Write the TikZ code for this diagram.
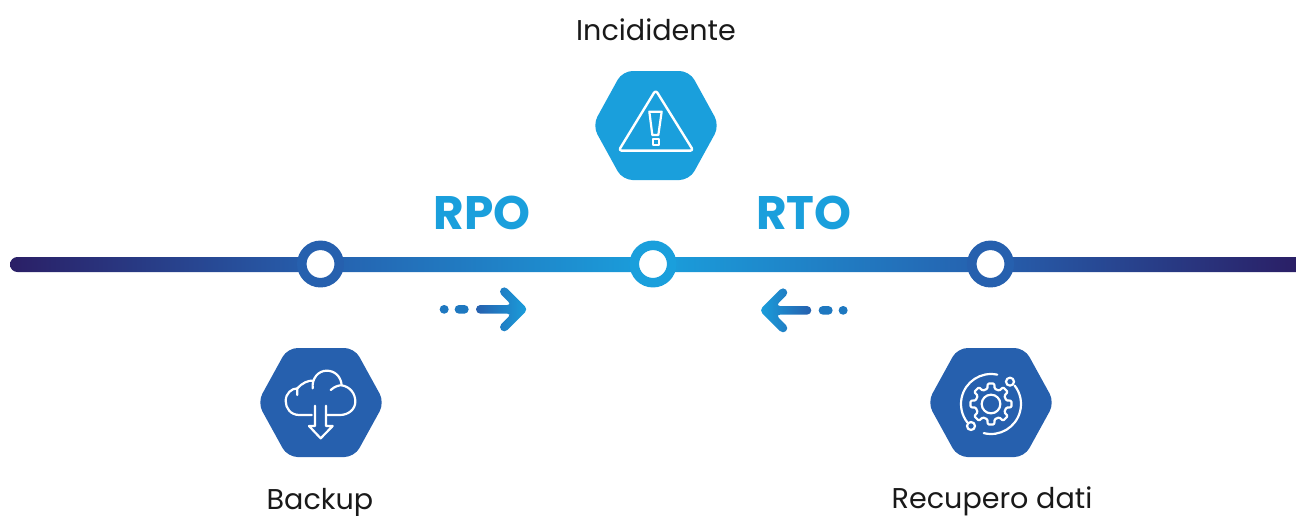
\documentclass[tikz,border=0pt]{standalone}
\usepackage{fontspec}
\setmainfont{Poppins}
\definecolor{cA}{HTML}{1A9FDC}
\definecolor{cB}{HTML}{2660AE}
\definecolor{cC}{HTML}{2A1F66}
\definecolor{cD}{HTML}{1E78C0}
\pgfdeclarehorizontalshading{barshade}{100bp}{
  color(0bp)=(cC); color(25bp)=(cC); color(37.05bp)=(cB); color(50bp)=(cA);
  color(63.1bp)=(cB); color(75bp)=(cC); color(100bp)=(cC)}
\tikzset{
  ring/.style={circle,draw=#1,fill=white,line width=9.5pt,minimum size=37.4pt,inner sep=0pt},
  icon/.style={draw=white,line width=2.2pt,line join=round,line cap=round},
  hexa/.style={fill=#1,rounded corners=10pt},
  lab/.style={anchor=base,text=black!90,font=\fontsize{28.6}{30}\selectfont},
  big/.style={anchor=base,text=cA,font=\fontsize{47}{50}\selectfont\bfseries},
  zoomed/.style={x=0.33333pt,y=-0.33333pt},
  zoomedup/.style={x=0.33333pt,y=0.33333pt},
}
\newcommand{\hexagonat}[3]{%
  \path[hexa=#3] (#1-63.5,#2) -- (#1-33.5,#2-54.5) -- (#1+33.5,#2-54.5) -- (#1+63.5,#2)
     -- (#1+33.5,#2+54.5) -- (#1-33.5,#2+54.5) -- cycle;}
\newcommand{\arrowshape}{(168,225) -- (275,225) -- (234.8,184.8) -- (252.8,166.8) -- (324,238) -- (252.8,309.2) -- (234.8,291.2) -- (275,251) -- (168,251) -- cycle}
\begin{document}
\begin{tikzpicture}[x=1pt,y=-1pt]
\useasboundingbox (0,0) rectangle (1296,515);
\clip (0,0) rectangle (1296,515);
% timeline
\path[shading=barshade] (1296,257) [rounded corners=7.4pt] -- (10,257) -- (10,272) [sharp corners] -- (1296,272) -- cycle;
\node[ring=cB] (p1) at (320.5,264) {};
\node[ring=cA] (p2) at (653,264) {};
\node[ring=cB] (p3) at (990.5,264) {};
% hexagons
\hexagonat{656}{125.5}{cA}
\hexagonat{321}{402.5}{cB}
\hexagonat{991}{402.5}{cB}
% warning icon
\begin{scope}[shift={(570,60)},zoomed]
  \draw[icon,line width=2.4pt,rounded corners=3pt] (257,90) -- (370,272) -- (146,272) -- cycle;
  \draw[icon] (238,155) -- (275,155) -- (265,225) -- (247,225) -- cycle;
  \draw[icon] (248,236) rectangle (267,254);
\end{scope}
% cloud icon
\begin{scope}[shift={(240,340)},zoomed]
  \draw[icon] (215,225) -- (178,225)
     .. controls (152,225) and (137,205) .. (137,183)
     .. controls (137,160) and (155,145) .. (172,145)
     -- (172,165);
  \draw[icon] (172,145)
     .. controls (185,130) and (205,120) .. (220,122);
  \draw[icon] (218,145)
     .. controls (215,115) and (235,92) .. (260,92)
     .. controls (285,92) and (303,110) .. (305,136);
  \draw[icon] (272,150)
     .. controls (285,138) and (300,135) .. (305,136)
     .. controls (330,140) and (346,160) .. (346,185)
     .. controls (346,208) and (325,225) .. (300,225) -- (262,225);
  \draw[icon] (225,197) -- (225,258) -- (207,258) -- (242,295) -- (278,258) -- (258,258) -- (258,197);
\end{scope}
% gear icon
\begin{scope}[shift={(910,340)},zoomed]
  \begin{scope}[shift={(243,192)},zoomedup]
    \draw[icon,rounded corners=1pt] (76.5:47)
      \foreach \a in {90,135,...,405}{ -- (\a-13.5:47) -- (\a-9:62) -- (\a+9:62) -- (\a+13.5:47)} -- cycle;
    \draw[icon] (0,0) circle (28);
    \draw[icon] (78:90) arc[start angle=78,end angle=218,radius=90];
    \draw[icon] (256:90) arc[start angle=256,end angle=398,radius=90];
  \end{scope}
  \draw[icon] (183,258) circle (12);
  \draw[icon] (300,125) circle (12);
\end{scope}
% RPO arrow
\begin{scope}[shift={(420,230)},zoomed]
  \fill[cD,rounded corners=4.3pt] (59,225) rectangle (86,251);
  \fill[cD,rounded corners=4.3pt] (104,225) rectangle (146,251);
  \path[left color=cB,right color=cA,rounded corners=4.33pt] \arrowshape;
\end{scope}
% RTO arrow
\begin{scope}[shift={(867.3,231)},xscale=-1,zoomed]
  \fill[cD,rounded corners=4.3pt] (59,225) rectangle (86,251);
  \fill[cD,rounded corners=4.3pt] (104,225) rectangle (146,251);
  \path[left color=cA,right color=cB,rounded corners=4.33pt] \arrowshape;
\end{scope}
% labels
\node[lab] (inc) at (656,40) {Incididente};
\node[lab] (bak) at (320,509.5) {Backup};
\node[lab] (rec) at (992,508.5) {Recupero dati};
\node[big] (rpo) at (482,229.5) {RPO};
\node[big] (rto) at (804,229.5) {RTO};
\end{tikzpicture}
\end{document}
